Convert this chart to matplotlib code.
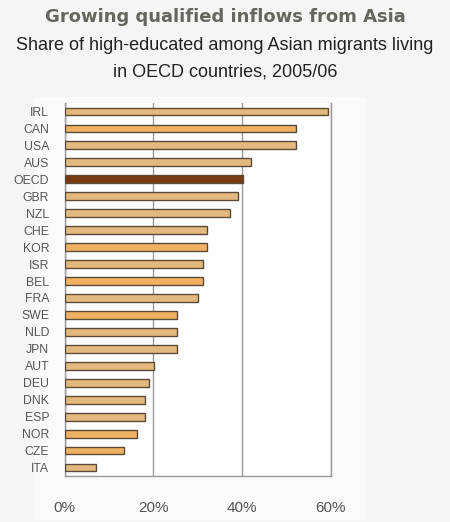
import matplotlib
matplotlib.use("Agg")
import matplotlib.pyplot as plt
from matplotlib.patches import Rectangle

countries = ["IRL", "CAN", "USA", "AUS", "OECD", "GBR", "NZL", "CHE", "KOR", "ISR", "BEL",
             "FRA", "SWE", "NLD", "JPN", "AUT", "DEU", "DNK", "ESP", "NOR", "CZE", "ITA"]
values = [59.3, 52.1, 52.1, 42.1, 40.1, 39.0, 37.2, 32.1, 32.1, 31.1, 31.1,
          30.1, 25.3, 25.3, 25.3, 20.1, 19.0, 18.1, 18.1, 16.3, 13.3, 7.0]
highlight = "OECD"
orange_set = ["CAN", "KOR", "BEL", "SWE", "NOR", "CZE"]
xticks = [0, 20, 40, 60]
xtick_labels = ["0%", "20%", "40%", "60%"]

plt.rcParams['font.family'] = ['Liberation Sans', 'DejaVu Sans']

W, H = 450, 522
fig = plt.figure(figsize=(W / 100, H / 100), dpi=100, facecolor="#f5f5f5")

# subtle white panel behind chart
fig.patches.append(Rectangle((35 / W, 1 - 520 / H), (365 - 35) / W, (520 - 97) / H,
                             transform=fig.transFigure, facecolor="#fafafa",
                             edgecolor="none", zorder=-5))

left, right, top, bottom = 64.5, 331, 103, 476
ax = fig.add_axes([left / W, 1 - bottom / H, (right - left) / W, (bottom - top) / H])
ax.set_zorder(2)
ax.set_facecolor("white")

n = len(countries)
ys = list(range(n))
colors = []
for c in countries:
    if c == highlight:
        colors.append("#7a3b12")
    elif c in orange_set:
        colors.append("#f0b262")
    else:
        colors.append("#e3b97e")
ax.barh(ys, values, height=0.46, color=colors, edgecolor="#5a4a3a", linewidth=1.0, zorder=3)

ax.set_ylim(n - 0.5, -0.5)
ax.set_xlim(0, 60)
ax.set_xticks(xticks)
ax.set_xticklabels(xtick_labels, fontsize=11, color="#555555")
ax.set_yticks(ys)
ax.set_yticklabels(countries, fontsize=8.8, color="#555555")
ax.tick_params(axis="both", length=0)
ax.tick_params(axis="x", pad=18)
ax.tick_params(axis="y", pad=11)
ax.grid(axis="x", color="#999999", linewidth=1.0, zorder=1)
ax.spines["top"].set_visible(False)
for s in ["left", "bottom", "right"]:
    ax.spines[s].set_color("#999999")
    ax.spines[s].set_linewidth(1.0)

fig.text(0.5, 1 - 17 / H, "Growing qualified inflows from Asia", ha="center", va="center",
         fontsize=13, fontweight="bold", color="#666660", family=["DejaVu Sans"])
fig.text(0.5, 1 - 45 / H, "Share of high-educated among Asian migrants living", ha="center",
         va="center", fontsize=13, color="#222222")
fig.text(0.5, 1 - 72 / H, "in OECD countries, 2005/06", ha="center",
         va="center", fontsize=13, color="#222222")

fig.savefig("out.png", dpi=100, facecolor=fig.get_facecolor())
